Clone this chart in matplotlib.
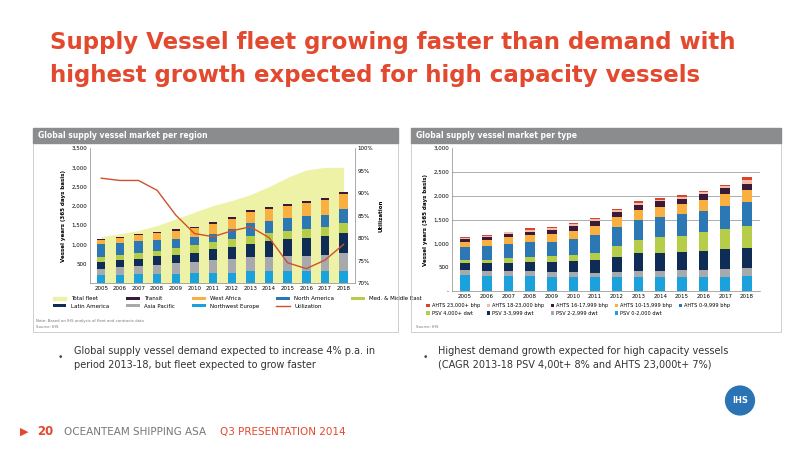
import matplotlib.pyplot as plt
from matplotlib.patches import Rectangle, Ellipse
import numpy as np

years = [str(y) for y in range(2005, 2019)]

# left chart: demand per region (vessel years)
nw_europe = [200, 220, 225, 240, 240, 260, 265, 270, 300, 300, 300, 300, 300, 320]
asia_pacific = [170, 200, 230, 240, 280, 290, 330, 360, 370, 380, 390, 400, 430, 470]
latin_america = [175, 170, 180, 210, 200, 240, 280, 310, 340, 400, 440, 480, 480, 500]
med_me = [125, 130, 140, 150, 180, 200, 200, 200, 210, 220, 230, 230, 240, 270]
north_america = [345, 330, 310, 280, 250, 210, 200, 250, 330, 320, 320, 330, 320, 350]
west_africa = [105, 120, 150, 170, 200, 220, 260, 270, 300, 300, 310, 340, 390, 400]
transit = [30, 30, 30, 40, 40, 40, 50, 50, 50, 50, 50, 50, 50, 60]
total_fleet = [1207, 1276, 1362, 1491, 1664, 1836, 2009, 2138, 2293, 2500, 2741, 2931, 3000, 3000]
utilization = [93.3, 92.8, 92.8, 90.6, 85.1, 81.0, 80.3, 81.6, 82.5, 80.1, 74.5, 73.2, 75.1, 78.6]

# right chart: demand per type
psv_0_2000 = [336, 320, 320, 315, 300, 290, 290, 300, 300, 300, 300, 300, 300, 315]
psv_2_2999 = [105, 110, 110, 115, 110, 110, 100, 110, 130, 130, 140, 150, 160, 160]
psv_3_3999 = [140, 150, 170, 190, 210, 230, 260, 310, 360, 370, 380, 400, 420, 435]
psv_4000 = [70, 80, 90, 100, 110, 130, 160, 220, 290, 330, 340, 380, 420, 455]
ahts_0_9999 = [266, 280, 300, 300, 310, 330, 360, 400, 410, 420, 450, 460, 480, 512]
ahts_10_15999 = [119, 130, 140, 150, 160, 180, 200, 210, 220, 220, 220, 230, 250, 245]
ahts_16_17999 = [56, 60, 70, 80, 80, 90, 100, 110, 100, 110, 110, 120, 130, 127]
ahts_18_23000 = [28, 30, 30, 40, 40, 40, 40, 40, 40, 40, 40, 40, 40, 83]
ahts_23000 = [14, 20, 20, 25, 25, 25, 30, 30, 30, 30, 30, 30, 30, 57]

RED = '#E2492E'
c_lb, c_gray, c_navy, c_green = '#1BA1DC', '#A7A9AC', '#0F2C57', '#B6CD4A'
c_blue, c_orange, c_purple = '#2B78B5', '#F9B041', '#3A1A38'
c_pink, c_red = '#F3BBAA', '#D9452B'

fig = plt.figure(figsize=(8, 4.5), dpi=100)

fig.text(0.062, 0.905, 'Supply Vessel fleet growing faster than demand with',
         color=RED, fontsize=16.5, fontweight='bold', va='center')
fig.text(0.062, 0.833, 'highest growth expected for high capacity vessels',
         color=RED, fontsize=16.5, fontweight='bold', va='center')

# panel frames and header bars
for x0, w, title in [(33, 365, 'Global supply vessel market per region'),
                     (411, 370, 'Global supply vessel market per type')]:
    fig.patches.append(Rectangle((x0 / 800, 1 - 332 / 450), w / 800, 204 / 450,
                                 transform=fig.transFigure, fill=False,
                                 edgecolor='#C8C8C8', lw=0.6))
    fig.patches.append(Rectangle((x0 / 800, 1 - 143 / 450), w / 800, 15 / 450,
                                 transform=fig.transFigure, color='#8A8C8E'))
    fig.text((x0 + 5) / 800, 1 - 135.5 / 450, title, color='white',
             fontsize=5.5, fontweight='bold', va='center')

x = np.arange(len(years))
w = 0.45

# left chart
ax = fig.add_axes([0.1125, 0.371, 0.331, 0.30])
ax.fill_between(x, total_fleet, color='#EEF2A6', lw=0, label='Total fleet')
bottom = np.zeros(len(x))
left_series = [(nw_europe, c_lb, 'Northwest Europe'), (asia_pacific, c_gray, 'Asia Pacific'),
               (latin_america, c_navy, 'Latin America'), (med_me, c_green, 'Med. & Middle East'),
               (north_america, c_blue, 'North America'), (west_africa, c_orange, 'West Africa'),
               (transit, c_purple, 'Transit')]
handles = {}
for vals, col, lab in left_series:
    handles[lab] = ax.bar(x, vals, w, bottom=bottom, color=col, label=lab)
    bottom += vals
ax.set_ylim(0, 3500)
ax.set_xlim(-0.6, len(x) - 0.4)
ax.set_yticks(range(500, 3501, 500))
ax.set_yticklabels([f'{v:,}' for v in range(500, 3501, 500)], fontsize=4)
ax.set_xticks(x)
ax.set_xticklabels(years, fontsize=4)
ax.set_ylabel('Vessel years (365 days basis)', fontsize=4, fontweight='bold')
ax.tick_params(length=0, pad=2)
for s in ['top', 'right']:
    ax.spines[s].set_visible(False)
for s in ['left', 'bottom']:
    ax.spines[s].set_color('#888888')
    ax.spines[s].set_linewidth(0.5)
ax2 = ax.twinx()
util_line, = ax2.plot(x, utilization, color='#D0502C', lw=1, label='Utilization')
ax2.set_ylim(70, 100)
ax2.set_yticks(range(70, 101, 5))
ax2.set_yticklabels([f'{v}%' for v in range(70, 101, 5)], fontsize=4)
ax2.set_ylabel('Utilization', fontsize=4, fontweight='bold')
ax2.tick_params(length=0, pad=2)
for s in ['top', 'left', 'bottom']:
    ax2.spines[s].set_visible(False)
ax2.spines['right'].set_color('#888888')
ax2.spines['right'].set_linewidth(0.5)

fleet_h = Rectangle((0, 0), 1, 1, color='#EEF2A6')
order = [(fleet_h, 'Total fleet'), (handles['Latin America'], 'Latin America'),
         (handles['Transit'], 'Transit'), (handles['Asia Pacific'], 'Asia Pacific'),
         (handles['West Africa'], 'West Africa'), (handles['Northwest Europe'], 'Northwest Europe'),
         (handles['North America'], 'North America'), (util_line, 'Utilization'),
         (handles['Med. & Middle East'], 'Med. & Middle East')]
ax.legend([h for h, _ in order], [l for _, l in order], ncol=5, fontsize=4,
          loc='upper left', bbox_to_anchor=(-0.15, -0.08), frameon=False,
          handlelength=2.5, handleheight=0.5, columnspacing=3, borderaxespad=0)
fig.text(0.045, 1 - 322 / 450, 'Note: Based on IHS analysis of fleet and contracts data',
         fontsize=2.8, color='#777777')
fig.text(0.045, 1 - 328 / 450, 'Source: IHS', fontsize=2.8, color='#777777')

# right chart
bx = fig.add_axes([0.565, 0.353, 0.385, 0.318])
bottom = np.zeros(len(x))
right_series = [(psv_0_2000, c_lb, 'PSV 0-2,000 dwt'), (psv_2_2999, c_gray, 'PSV 2-2,999 dwt'),
                (psv_3_3999, c_navy, 'PSV 3-3,999 dwt'), (psv_4000, c_green, 'PSV 4,000+ dwt'),
                (ahts_0_9999, c_blue, 'AHTS 0-9,999 bhp'), (ahts_10_15999, c_orange, 'AHTS 10-15,999 bhp'),
                (ahts_16_17999, c_purple, 'AHTS 16-17,999 bhp'), (ahts_18_23000, c_pink, 'AHTS 18-23,000 bhp'),
                (ahts_23000, c_red, 'AHTS 23,000+ bhp')]
rh = {}
for vals, col, lab in right_series:
    rh[lab] = bx.bar(x, vals, w, bottom=bottom, color=col, zorder=3)
    bottom += vals
bx.set_ylim(0, 3000)
bx.set_xlim(-0.6, len(x) - 0.4)
bx.set_yticks(range(0, 3001, 500))
bx.set_yticklabels(['-'] + [f'{v:,}' for v in range(500, 3001, 500)], fontsize=4)
for v in [1500, 2000, 2500]:
    bx.axhline(v, color='#A0A0A0', lw=0.6, zorder=1)
bx.set_xticks(x)
bx.set_xticklabels(years, fontsize=4)
bx.set_ylabel('Vessel years (365 days basis)', fontsize=4, fontweight='bold')
bx.tick_params(length=0, pad=2)
for s in ['top', 'right']:
    bx.spines[s].set_visible(False)
for s in ['left', 'bottom']:
    bx.spines[s].set_color('#888888')
    bx.spines[s].set_linewidth(0.5)
rorder = ['AHTS 23,000+ bhp', 'PSV 4,000+ dwt', 'AHTS 18-23,000 bhp', 'PSV 3-3,999 dwt',
          'AHTS 16-17,999 bhp', 'PSV 2-2,999 dwt', 'AHTS 10-15,999 bhp', 'PSV 0-2,000 dwt',
          'AHTS 0-9,999 bhp']
bx.legend([rh[l] for l in rorder], rorder, ncol=5, fontsize=3.6, loc='upper left',
          bbox_to_anchor=(-0.09, -0.07), frameon=False, handlelength=0.7,
          handleheight=0.7, handletextpad=0.4, columnspacing=1.3, borderaxespad=0)
fig.text(0.52, 1 - 328 / 450, 'Source: IHS', fontsize=2.8, color='#777777')

# bullets
fig.text(0.072, 0.205, '•', fontsize=6.5, color='#444444', va='center')
fig.text(0.092, 0.205, 'Global supply vessel demand expected to increase 4% p.a. in\n'
         'period 2013-18, but fleet expected to grow faster',
         fontsize=7, color='#333333', va='center', linespacing=1.45)
fig.text(0.528, 0.205, '•', fontsize=6.5, color='#444444', va='center')
fig.text(0.548, 0.205, 'Highest demand growth expected for high capacity vessels\n'
         '(CAGR 2013-18 PSV 4,00t+ 8% and AHTS 23,000t+ 7%)',
         fontsize=7, color='#333333', va='center', linespacing=1.45)

# logo
fig.patches.append(Ellipse((0.925, 0.11), 0.036, 0.064, transform=fig.transFigure,
                           color='#2A73B5'))
fig.text(0.925, 0.11, 'IHS', color='white', fontsize=6, fontweight='bold',
         ha='center', va='center')

# footer
fig.text(0.025, 0.041, '▶', color=RED, fontsize=8, va='center')
fig.text(0.047, 0.041, '20', color=RED, fontsize=8.5, fontweight='bold', va='center')
fig.text(0.08, 0.041, 'OCEANTEAM SHIPPING ASA', color='#777777', fontsize=7.5, va='center')
fig.text(0.275, 0.041, 'Q3 PRESENTATION 2014', color=RED, fontsize=7.5, va='center')

fig.savefig('out.png', dpi=100)
